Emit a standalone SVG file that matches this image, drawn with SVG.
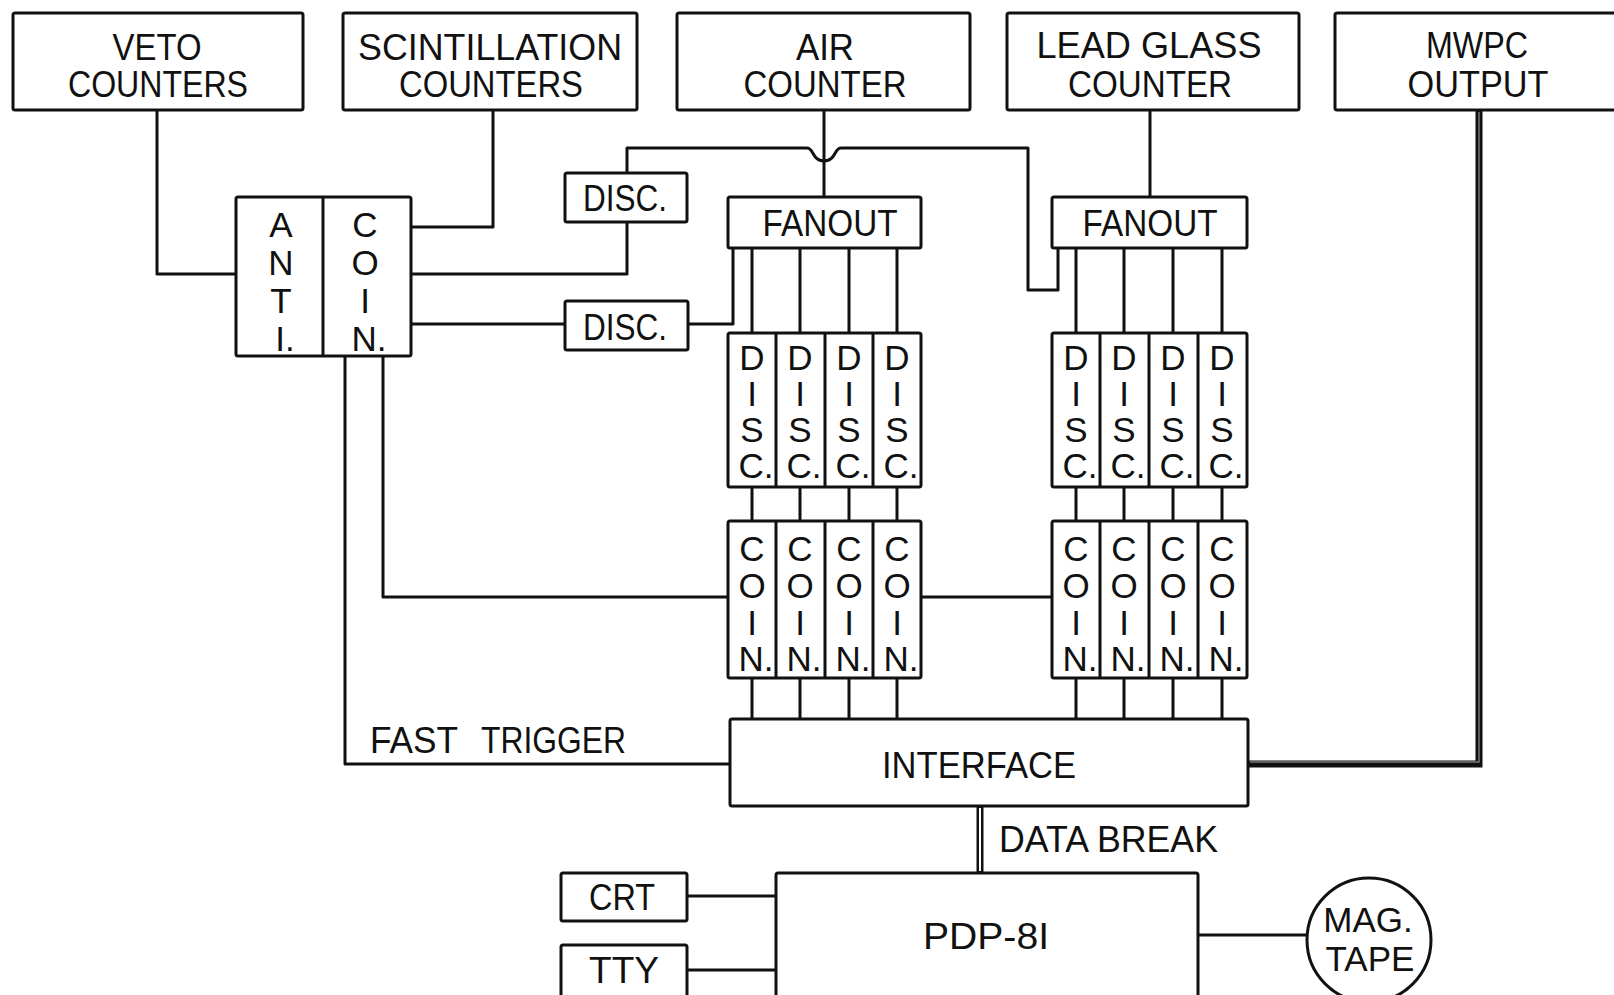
<svg xmlns="http://www.w3.org/2000/svg" width="1614" height="995" viewBox="0 0 1614 995">
<style>
.box{fill:#fff;stroke:#111;stroke-width:3}
.ln{fill:none;stroke:#111;stroke-width:3;stroke-linejoin:round}
.t{font-family:"Liberation Sans",Arial,sans-serif;font-size:37px;fill:#111;text-anchor:middle}
.s{font-family:"Liberation Sans",Arial,sans-serif;font-size:35px;fill:#111;text-anchor:middle}
.l{font-family:"Liberation Sans",Arial,sans-serif;font-size:36px;fill:#111}
</style>
<rect width="1614" height="995" fill="#fff"/>
<g id="connectors">
  <path class="ln" d="M157 110 V274 H236"/>
  <path class="ln" d="M493 110 V227 H411"/>
  <path class="ln" d="M411 274 H627 V222"/>
  <path class="ln" d="M627 173 V148 H807 C814 148 812 161 824 161 C836 161 834 148 841 148 H1028 V290 H1058 V248"/>
  <path class="ln" d="M411 324 H565"/>
  <path class="ln" d="M688 324 H733 V248"/>
  <path class="ln" d="M824 110 V197"/>
  <path class="ln" d="M1150 110 V197"/>
  <path class="ln" d="M752 248 V333 M800 248 V333 M849 248 V333 M897 248 V333"/>
  <path class="ln" d="M1076 248 V333 M1124 248 V333 M1173 248 V333 M1222 248 V333"/>
  <path class="ln" d="M752 487 V521 M800 487 V521 M849 487 V521 M897 487 V521"/>
  <path class="ln" d="M1076 487 V521 M1124 487 V521 M1173 487 V521 M1222 487 V521"/>
  <path class="ln" d="M752 678 V719 M800 678 V719 M849 678 V719 M897 678 V719"/>
  <path class="ln" d="M1076 678 V719 M1124 678 V719 M1173 678 V719 M1222 678 V719"/>
  <path class="ln" d="M383 356 V597 H728"/>
  <path class="ln" d="M921 597 H1052"/>
  <path class="ln" d="M345 356 V764 H730"/>
  <path fill="none" stroke="#111" stroke-width="7" d="M1479 110 V764 H1248"/>
  <path fill="none" stroke="#777" stroke-width="1.5" d="M1479 112 V762 H1250"/>
  <path fill="none" stroke="#111" stroke-width="7" d="M980 806 V873"/>
  <path fill="none" stroke="#fff" stroke-width="2" d="M980 808 V871"/>
  <path class="ln" d="M687 896 H776"/>
  <path class="ln" d="M687 970 H776"/>
  <path class="ln" d="M1198 935 H1307"/>
</g>
<g id="veto"><rect class="box" x="13" y="13" width="290" height="97" rx="2"/>
  <text class="t" x="157" y="60" textLength="89" lengthAdjust="spacingAndGlyphs">VETO</text>
  <text class="t" x="158" y="97" textLength="180" lengthAdjust="spacingAndGlyphs">COUNTERS</text></g>
<g id="scint"><rect class="box" x="343" y="13" width="294" height="97" rx="2"/>
  <text class="t" x="490" y="60" textLength="264" lengthAdjust="spacingAndGlyphs">SCINTILLATION</text>
  <text class="t" x="491" y="97" textLength="184" lengthAdjust="spacingAndGlyphs">COUNTERS</text></g>
<g id="air"><rect class="box" x="677" y="13" width="293" height="97" rx="2"/>
  <text class="t" x="825" y="60" textLength="58" lengthAdjust="spacingAndGlyphs">AIR</text>
  <text class="t" x="825" y="97" textLength="163" lengthAdjust="spacingAndGlyphs">COUNTER</text></g>
<g id="leadglass"><rect class="box" x="1007" y="13" width="292" height="97" rx="2"/>
  <text class="t" x="1149" y="58" textLength="225" lengthAdjust="spacingAndGlyphs">LEAD GLASS</text>
  <text class="t" x="1150" y="97" textLength="164" lengthAdjust="spacingAndGlyphs">COUNTER</text></g>
<g id="mwpc"><rect class="box" x="1335" y="13" width="290" height="97" rx="2"/>
  <text class="t" x="1477" y="58" textLength="102" lengthAdjust="spacingAndGlyphs">MWPC</text>
  <text class="t" x="1478" y="97" textLength="141" lengthAdjust="spacingAndGlyphs">OUTPUT</text></g>
<g id="anticoin"><rect class="box" x="236" y="197" width="175" height="159" rx="2"/>
  <line class="ln" x1="323" y1="197" x2="323" y2="356"/>
  <text class="s"><tspan x="281" y="237">A</tspan><tspan x="281" y="275">N</tspan><tspan x="281" y="313">T</tspan><tspan x="285" y="351">I.</tspan></text>
  <text class="s"><tspan x="365" y="237">C</tspan><tspan x="365" y="275">O</tspan><tspan x="365" y="313">I</tspan><tspan x="369" y="351">N.</tspan></text></g>
<g id="disc1"><rect class="box" x="565" y="173" width="122" height="49" rx="2"/>
  <text class="l" x="583" y="211" textLength="84" lengthAdjust="spacingAndGlyphs">DISC.</text></g>
<g id="disc2"><rect class="box" x="565" y="301" width="123" height="49" rx="2"/>
  <text class="l" x="583" y="340" textLength="84" lengthAdjust="spacingAndGlyphs">DISC.</text></g>
<g id="fanout1"><rect class="box" x="728" y="197" width="193" height="51" rx="2"/>
  <text class="t" x="830" y="236" textLength="135" lengthAdjust="spacingAndGlyphs">FANOUT</text></g>
<g id="fanout2"><rect class="box" x="1052" y="197" width="195" height="51" rx="2"/>
  <text class="t" x="1150" y="236" textLength="135" lengthAdjust="spacingAndGlyphs">FANOUT</text></g>
<g id="disc-left"><rect class="box" x="728" y="333" width="193" height="154" rx="2"/>
  <path class="ln" d="M776 333 V487 M825 333 V487 M873 333 V487"/>
  <text class="s"><tspan x="752" y="370">D</tspan><tspan x="752" y="406">I</tspan><tspan x="752" y="442">S</tspan><tspan x="756" y="478">C.</tspan></text>
  <text class="s"><tspan x="800" y="370">D</tspan><tspan x="800" y="406">I</tspan><tspan x="800" y="442">S</tspan><tspan x="804" y="478">C.</tspan></text>
  <text class="s"><tspan x="849" y="370">D</tspan><tspan x="849" y="406">I</tspan><tspan x="849" y="442">S</tspan><tspan x="853" y="478">C.</tspan></text>
  <text class="s"><tspan x="897" y="370">D</tspan><tspan x="897" y="406">I</tspan><tspan x="897" y="442">S</tspan><tspan x="901" y="478">C.</tspan></text></g>
<g id="disc-right"><rect class="box" x="1052" y="333" width="195" height="154" rx="2"/>
  <path class="ln" d="M1100 333 V487 M1149 333 V487 M1198 333 V487"/>
  <text class="s"><tspan x="1076" y="370">D</tspan><tspan x="1076" y="406">I</tspan><tspan x="1076" y="442">S</tspan><tspan x="1080" y="478">C.</tspan></text>
  <text class="s"><tspan x="1124" y="370">D</tspan><tspan x="1124" y="406">I</tspan><tspan x="1124" y="442">S</tspan><tspan x="1128" y="478">C.</tspan></text>
  <text class="s"><tspan x="1173" y="370">D</tspan><tspan x="1173" y="406">I</tspan><tspan x="1173" y="442">S</tspan><tspan x="1177" y="478">C.</tspan></text>
  <text class="s"><tspan x="1222" y="370">D</tspan><tspan x="1222" y="406">I</tspan><tspan x="1222" y="442">S</tspan><tspan x="1226" y="478">C.</tspan></text></g>
<g id="coin-left"><rect class="box" x="728" y="521" width="193" height="157" rx="2"/>
  <path class="ln" d="M776 521 V678 M825 521 V678 M873 521 V678"/>
  <text class="s"><tspan x="752" y="561">C</tspan><tspan x="752" y="598">O</tspan><tspan x="752" y="635">I</tspan><tspan x="756" y="671">N.</tspan></text>
  <text class="s"><tspan x="800" y="561">C</tspan><tspan x="800" y="598">O</tspan><tspan x="800" y="635">I</tspan><tspan x="804" y="671">N.</tspan></text>
  <text class="s"><tspan x="849" y="561">C</tspan><tspan x="849" y="598">O</tspan><tspan x="849" y="635">I</tspan><tspan x="853" y="671">N.</tspan></text>
  <text class="s"><tspan x="897" y="561">C</tspan><tspan x="897" y="598">O</tspan><tspan x="897" y="635">I</tspan><tspan x="901" y="671">N.</tspan></text></g>
<g id="coin-right"><rect class="box" x="1052" y="521" width="195" height="157" rx="2"/>
  <path class="ln" d="M1100 521 V678 M1149 521 V678 M1198 521 V678"/>
  <text class="s"><tspan x="1076" y="561">C</tspan><tspan x="1076" y="598">O</tspan><tspan x="1076" y="635">I</tspan><tspan x="1080" y="671">N.</tspan></text>
  <text class="s"><tspan x="1124" y="561">C</tspan><tspan x="1124" y="598">O</tspan><tspan x="1124" y="635">I</tspan><tspan x="1128" y="671">N.</tspan></text>
  <text class="s"><tspan x="1173" y="561">C</tspan><tspan x="1173" y="598">O</tspan><tspan x="1173" y="635">I</tspan><tspan x="1177" y="671">N.</tspan></text>
  <text class="s"><tspan x="1222" y="561">C</tspan><tspan x="1222" y="598">O</tspan><tspan x="1222" y="635">I</tspan><tspan x="1226" y="671">N.</tspan></text></g>
<g id="interface"><rect class="box" x="730" y="719" width="518" height="87" rx="2"/>
  <text class="t" x="979" y="778" textLength="194" lengthAdjust="spacingAndGlyphs">INTERFACE</text></g>
<g id="label-fasttrigger">
  <text class="l" x="370" y="753" textLength="88" lengthAdjust="spacingAndGlyphs">FAST</text>
  <text class="l" x="481" y="753" textLength="145" lengthAdjust="spacingAndGlyphs">TRIGGER</text></g>
<g id="label-databreak"><text class="l" x="999" y="852" textLength="219" lengthAdjust="spacingAndGlyphs">DATA BREAK</text></g>
<g id="pdp"><rect class="box" x="776" y="873" width="422" height="124" rx="2"/>
  <text class="t" x="986" y="949" textLength="126" lengthAdjust="spacingAndGlyphs">PDP-8I</text></g>
<g id="crt"><rect class="box" x="561" y="873" width="126" height="48" rx="2"/>
  <text class="l" x="589" y="910" textLength="66" lengthAdjust="spacingAndGlyphs">CRT</text></g>
<g id="tty"><rect class="box" x="561" y="945" width="126" height="52" rx="2"/>
  <text class="l" x="589" y="983" textLength="70" lengthAdjust="spacingAndGlyphs">TTY</text></g>
<g id="magtape"><circle class="box" cx="1369" cy="940" r="62"/>
  <text class="s"><tspan x="1368" y="932">MAG.</tspan><tspan x="1370" y="971">TAPE</tspan></text></g>
</svg>
